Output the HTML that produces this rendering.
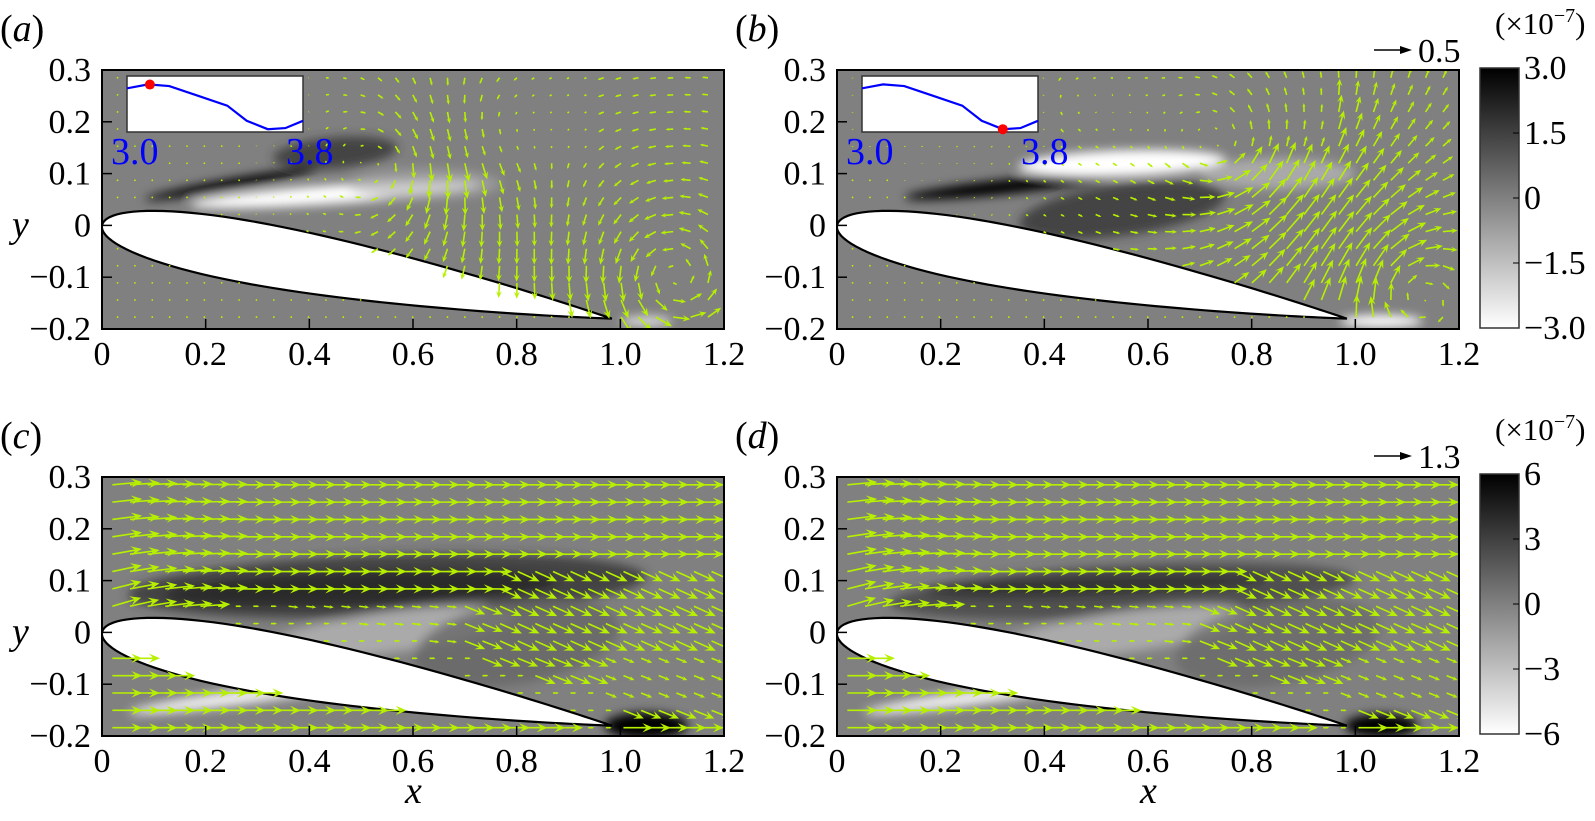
<!DOCTYPE html>
<html><head><meta charset="utf-8">
<style>
html,body{margin:0;padding:0;background:#fff;}
svg text{font-family:"Liberation Serif","DejaVu Serif",serif;}
</style></head>
<body>
<svg id="fig" width="1595" height="816" viewBox="0 0 1595 816" xmlns="http://www.w3.org/2000/svg" font-family="Liberation Serif, serif">
<defs>
<filter id="blur6" filterUnits="userSpaceOnUse" x="0" y="0" width="1595" height="816"><feGaussianBlur stdDeviation="5"/></filter>
<linearGradient id="cbgrad" x1="0" y1="0" x2="0" y2="1">
<stop offset="0" stop-color="#000"/><stop offset="0.5" stop-color="#808080"/><stop offset="1" stop-color="#fff"/>
</linearGradient>
</defs>
</svg>
<script>
const xTicks = [0, 0.2, 0.4, 0.6, 0.8, 1.0, 1.2];
const xTickLabels = ["0","0.2","0.4","0.6","0.8","1.0","1.2"];
const yTicks = [0.3, 0.2, 0.1, 0, -0.1, -0.2];
const yTickLabels = ["0.3","0.2","0.1","0","\u22120.1","\u22120.2"];
const cbTopLabels = ["3.0","1.5","0","\u22121.5","\u22123.0"];
const cbBotLabels = ["6","3","0","\u22123","\u22126"];
const insetT = [0, 0.12, 0.24, 0.4, 0.57, 0.68, 0.8, 0.9, 1.0];
const insetV = [0.78, 0.85, 0.82, 0.65, 0.47, 0.2, 0.05, 0.07, 0.2];
const insetDotA = 0.13, insetDotB = 0.8;
const vortexXa = [0.55, 1.1, 0.75];
const vortexYa = [0.12, -0.1, 0.2];
const vortexGa = [-0.05, 0.04, 0.03];
const vortexXb = [0.75, 1.1, 0.45];
const vortexYb = [0.15, -0.12, 0.25];
const vortexGb = [0.05, -0.04, 0.02];

const NS = "http://www.w3.org/2000/svg";
const svg = document.getElementById('fig');
const W = 622, H = 259, SX = W/1.2, SY = H/0.5;
const FS = 34;
function el(tag, attrs, parent){const e=document.createElementNS(NS,tag);for(const k in attrs)e.setAttribute(k,attrs[k]);(parent||svg).appendChild(e);return e;}
function txt(x,y,s,attrs,parent){const t=el('text',Object.assign({x:x,y:y,'font-size':FS,'font-family':'Liberation Serif, serif'},attrs),parent);t.textContent=s;return t;}

function airfoil(n){
  const a=Math.asin(0.18), c=Math.cos(a), s=Math.sin(a), up=[], lo=[];
  for(let i=0;i<=n;i++){
    const b=Math.PI*i/n, x=(1-Math.cos(b))/2;
    const yt=0.6*(0.2969*Math.sqrt(x)-0.126*x-0.3516*x*x+0.2843*x**3-0.1036*x**4);
    up.push([x*c+yt*s, -x*s+yt*c]); lo.push([x*c-yt*s, -x*s-yt*c]);
  }
  return up.concat(lo.reverse());
}
const foil = airfoil(60);
function inFoil(px,py){let ins=false;for(let i=0,j=foil.length-1;i<foil.length;j=i++){const [xi,yi]=foil[i],[xj,yj]=foil[j];if(((yi>py)!=(yj>py))&&(px<(xj-xi)*(py-yi)/(yj-yi)+xi))ins=!ins;}return ins;}
function surfUpper(x){let best=0;for(let i=0;i<=60;i++){if(Math.abs(foil[i][0]-x)<Math.abs(foil[best][0]-x))best=i;}return foil[best][1];}

function arrow(g,x,y,dx,dy,col,big){
  const L=Math.hypot(dx,dy); if(L<0.6){el('circle',{cx:x,cy:y,r:0.9,fill:col},g);return;}
  const ux=dx/L, uy=dy/L, hl=Math.min(big?11:9,L*0.45), hw=hl*0.42;
  const ex=x+dx, ey=y+dy;
  el('line',{x1:x,y1:y,x2:ex-ux*hl*0.6,y2:ey-uy*hl*0.6,stroke:col,'stroke-width':1.6},g);
  el('polygon',{points:`${ex},${ey} ${ex-ux*hl-uy*hw},${ey-uy*hl+ux*hw} ${ex-ux*hl*0.6},${ey-uy*hl*0.6} ${ex-ux*hl+uy*hw},${ey-uy*hl-ux*hw}`,fill:col},g);
}

function panel(id,L,T,opt){
  const g=el('g',{});  
  const X=v=>L+v*SX, Y=v=>T+(0.3-v)*SY;
  const cp=el('clipPath',{id:'clip'+id},g); el('rect',{x:L,y:T,width:W,height:H},cp);
  const body=el('g',{'clip-path':`url(#clip${id})`},g);
  el('rect',{x:L,y:T,width:W,height:H,fill:'#808080'},body);
  const blobs=el('g',{filter:'url(#blur6)'},body);
   
  opt.blobs.forEach(b=>el('ellipse',{cx:X(b[0]),cy:Y(b[1]),rx:b[2]*SX,ry:b[3]*SY,fill:b[4],transform:`rotate(${b[5]||0} ${X(b[0])} ${Y(b[1])})`,opacity:b[6]||1},blobs));
  const af=el('polygon',{points:foil.map(p=>X(p[0])+','+Y(p[1])).join(' '),fill:'#fff',stroke:'#000','stroke-width':2.2},body);
   
  const ag=el('g',{},body);  
  opt.field(ag,X,Y);
  if(opt.inset!==undefined){
    const ig=el('g',{},g);  
    const ix=L+25, iy=T+6, iw=176, ih=56;
    el('rect',{x:ix,y:iy,width:iw,height:ih,fill:'#fff',stroke:'#333','stroke-width':1.5},ig);
    el('polyline',{points:insetT.map((t,i)=>(ix+t*iw)+','+(iy+ih-insetV[i]*ih)).join(' '),fill:'none',stroke:'#0000ff','stroke-width':2.2},ig);
    let k=0; while(k<insetT.length-2&&insetT[k+1]<opt.inset)k++;
    const f=(opt.inset-insetT[k])/(insetT[k+1]-insetT[k]); const v=insetV[k]+f*(insetV[k+1]-insetV[k]);
    const d=el('circle',{cx:ix+opt.inset*iw,cy:iy+ih-v*ih,r:5,fill:'#ff0000'},ig);
     
    txt(L+9,T+94,'3.0',{fill:'#0000ff','font-size':38},ig);
    txt(L+184,T+94,'3.8',{fill:'#0000ff','font-size':38},ig);
  }
  el('rect',{x:L,y:T,width:W,height:H,fill:'none',stroke:'#000','stroke-width':2},g);
  yTicks.forEach((v,i)=>{el('line',{x1:L,x2:L+10,y1:Y(v),y2:Y(v),stroke:'#000','stroke-width':1.5},g);
    const t=txt(L-11,Y(v)+11,yTickLabels[i],{'text-anchor':'end'},g);  });
  xTicks.forEach((v,i)=>{el('line',{x1:X(v),x2:X(v),y1:T+H,y2:T+H-10,stroke:'#000','stroke-width':1.5},g);
    const t=txt(X(v),T+H+36,xTickLabels[i],{'text-anchor':'middle'},g);  });
  const lab=txt(L-102,T-29,'',{'font-size':38},g);  
  lab.innerHTML='(<tspan font-style="italic">'+id+'</tspan>)';
  if(opt.ylabel){const t=txt(L-90,T+167,'y',{'font-size':38,'font-style':'italic'},g);}
  if(opt.xlabel){const t=txt(L+W/2-8,T+H+67,'x',{'font-size':38,'font-style':'italic'},g);}
}

function vortexField(vx,vy,vg,strong){
  return function(g,X,Y){
    for(let x=0.03;x<1.2;x+=0.0335){for(let y=0.285;y>-0.2;y-=0.033){
      if(inFoil(x,y))continue;
      let u=0,v=0;
      for(let k=0;k<vx.length;k++){const dx=x-vx[k],dy=y-vy[k],r2=dx*dx+dy*dy+0.01;u+=-vg[k]*dy/r2;v+=vg[k]*dx/r2;}
      let amp=0.15;
      const su=surfUpper(Math.min(x,1));
      if(x>0.25&&y>su-0.02&&y<0.15) amp=Math.min(2,(x-0.2)*3)*(1-(y-su)/0.25*0.3);
      if(x>0.95) amp=Math.max(amp,1.6);
      if(x<0.35&&y>0.15) amp=0.25;
      if(y>0.15&&x>0.4) amp=Math.max(amp,0.7);
      if(y<su-0.02&&x<0.95) amp=0.05;
      let s=strong*amp*SX*0.07;
      let dx=u*s, dy=-v*s, Lm=Math.hypot(dx,dy); if(Lm>32){dx*=32/Lm;dy*=32/Lm;}
      arrow(g,X(x),Y(y),dx,dy,'#b6f000');
    }}
  };
}
function streamField(g,X,Y){
  for(let y=0.285;y>-0.2;y-=0.0335){for(let x=0.02;x<1.2;x+=0.034){
    if(inFoil(x,y))continue;
    const su=surfUpper(Math.min(x,1));
    let u=1,v=0,len=30;
    if(x<0.25&&y>-0.02){v=0.45*Math.exp(-x/0.12)*Math.exp(-Math.max(0,y)/0.2);}
    if(y<su+0.05&&y>su-0.03&&x>0.2&&x<1){len=6;}
    else if(y<0.07&&y>su&&x>0.2){len=10+(x>0.7?12:0);v=-0.4*(x>0.7?1:0.3);}
    if(x>0.95&&y<0.0&&y>-0.15){len=12;}
    if(x>0.75&&y<0.12&&y>-0.05){v=-0.45;len=24;}
    const n=Math.hypot(u,v);
    arrow(g,X(x),Y(y),u/n*len,-v/n*len,'#b6f000',true);
  }}
}

const blobsA=[[0.25,0.08,0.17,0.01,'#000',-10],[0.45,0.06,0.28,0.018,'#fff',-4],[0.45,0.14,0.12,0.03,'#333',-5,0.8],[0.62,0.08,0.15,0.03,'#aaa',0,0.6],[1.05,-0.185,0.05,0.01,'#ddd']];
const blobsB=[[0.33,0.075,0.2,0.014,'#000',-6],[0.55,0.12,0.2,0.025,'#fff',-2],[0.55,0.03,0.2,0.05,'#333',-8,0.8],[0.85,0.1,0.15,0.03,'#bbb',0,0.7],[1.05,-0.185,0.08,0.012,'#fff']];
const blobsC=[[0.5,0.085,0.38,0.03,'#000',-2],[0.55,0.09,0.5,0.06,'#333',-2,0.8],[0.55,0.0,0.25,0.04,'#aaa',-8],[0.8,-0.02,0.2,0.08,'#666',-10,0.8],[1.05,-0.18,0.08,0.025,'#000'],[0.3,-0.12,0.25,0.015,'#eee',-8]];
const blobsD=[[0.5,0.09,0.33,0.02,'#000',-2],[0.55,0.08,0.45,0.05,'#444',-3,0.8],[0.55,0.0,0.25,0.04,'#aaa',-8],[0.85,-0.02,0.2,0.08,'#666',-10,0.7],[1.05,-0.18,0.07,0.022,'#000'],[0.3,-0.12,0.25,0.015,'#eee',-8]];

panel('a',102,70,{blobs:blobsA,field:vortexField(vortexXa,vortexYa,vortexGa,1.2),inset:insetDotA,ylabel:true});
panel('b',837,70,{blobs:blobsB,field:vortexField(vortexXb,vortexYb,vortexGb,1.2),inset:insetDotB});
panel('c',102,477,{blobs:blobsC,field:streamField,ylabel:true,xlabel:true});
panel('d',837,477,{blobs:blobsD,field:streamField,xlabel:true});

function colorbar(T,labels,ref){
  const g=el('g',{});  
  el('rect',{x:1480,y:T,width:39,height:260,fill:'url(#cbgrad)',stroke:'#333','stroke-width':1.5},g);
  labels.forEach((s,i)=>{const y=T+i*65;
    if(i>0&&i<4){el('line',{x1:1513,x2:1519,y1:y,y2:y,stroke:'#000'},g);}
    txt(1524,y+11,s,{},g);});
  const u=txt(1495,T-34,'',{'font-size':31},g);
  u.innerHTML='(×10<tspan dy="-12" font-size="20">−7</tspan><tspan dy="12">)</tspan>';
  const r=el('g',{},g);  
  el('line',{x1:1374,x2:1404,y1:T-18,y2:T-18,stroke:'#000','stroke-width':1.5},r);
  el('polygon',{points:`${1412},${T-18} ${1400},${T-22} ${1400},${T-14}`,fill:'#000'},r);
  txt(1418,T-6,ref,{},r);
}
colorbar(68,cbTopLabels,'0.5');
colorbar(474,cbBotLabels,'1.3');
</script>
</body></html>
